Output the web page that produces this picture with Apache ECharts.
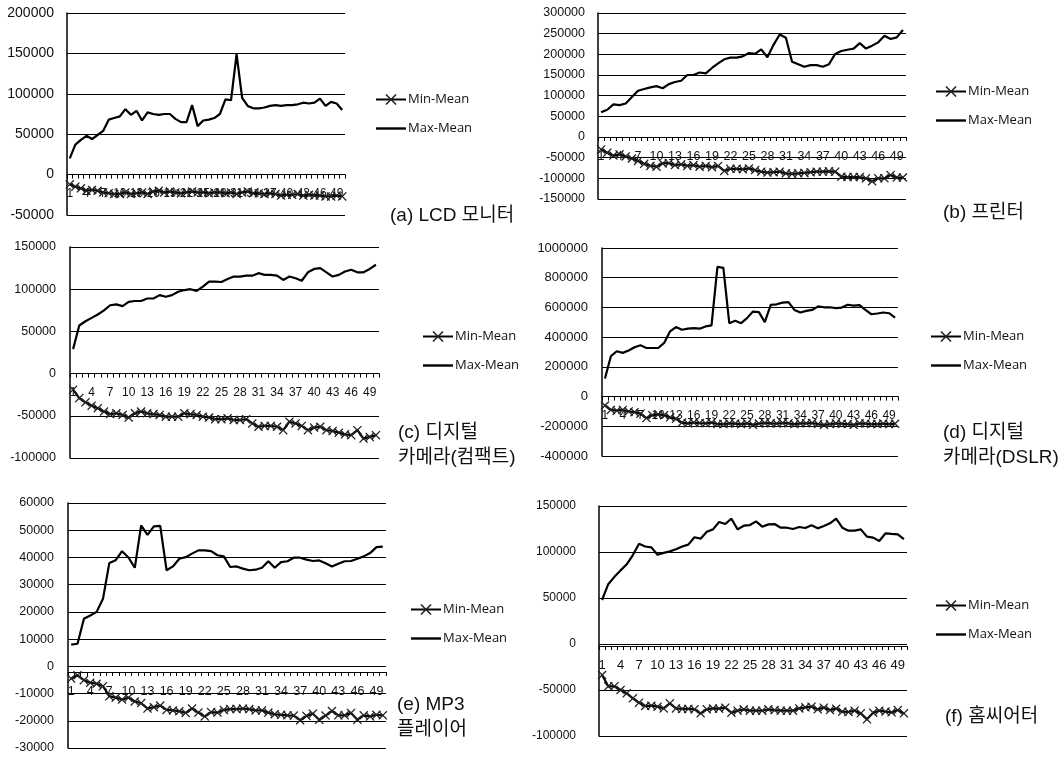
<!DOCTYPE html>
<html>
<head>
<meta charset="utf-8">
<script src="https://cdn.jsdelivr.net/npm/echarts@6/dist/echarts.min.js"></script>
<style>
html,body{margin:0;padding:0;background:#fff;}
#chart{width:1064px;height:757px;}
</style>
</head>
<body>
<div id="chart"></div>
<script>
// ---------- DATA ----------
const categories = ['1','2','3','4','5','6','7','8','9','10','11','12','13','14','15','16','17','18','19','20','21','22','23','24','25','26','27','28','29','30','31','32','33','34','35','36','37','38','39','40','41','42','43','44','45','46','47','48','49','50'];
const seriesNames = ['Min-Mean', 'Max-Mean'];

const lcdMin = [-12000,-15000,-17000,-20000,-19000,-20000,-22000,-23000,-24000,-24000,-22000,-24000,-23000,-22000,-24000,-21000,-20000,-22000,-21000,-22000,-23000,-22000,-21000,-22000,-22000,-23000,-22000,-22000,-23000,-22000,-24000,-22000,-21000,-23000,-23000,-24000,-23000,-24000,-26000,-25000,-25000,-24000,-26000,-25000,-26000,-26000,-27000,-27000,-26000,-27000];
const lcdMax = [20000,37000,43000,48000,44000,49000,54000,68000,70000,72000,81000,74000,79000,67000,77000,75000,74000,75000,75000,69000,65000,65000,86000,60000,67000,68000,70000,75000,93000,92000,149000,95000,85000,82000,82000,83000,85000,86000,85000,86000,86000,87000,89000,88000,89000,94000,85000,90000,88000,80000];

const printerMin = [-30000,-38000,-45000,-42000,-47000,-52000,-58000,-65000,-70000,-72000,-64000,-63000,-68000,-66000,-70000,-68000,-72000,-70000,-73000,-70000,-82000,-77000,-77000,-78000,-76000,-80000,-84000,-86000,-85000,-84000,-88000,-89000,-88000,-87000,-85000,-84000,-84000,-83000,-84000,-96000,-97000,-97000,-97000,-100000,-107000,-100000,-100000,-92000,-98000,-98000];
const printerMax = [60000,66000,79000,77000,81000,97000,112000,116000,120000,123000,118000,128000,133000,136000,150000,150000,156000,154000,167000,178000,188000,192000,192000,195000,203000,201000,212000,193000,223000,248000,240000,182000,176000,170000,174000,174000,170000,176000,201000,208000,211000,214000,227000,214000,221000,229000,245000,237000,241000,259000];

const compactMin = [-19000,-29000,-34000,-38000,-41000,-45000,-48000,-47000,-49000,-52000,-47000,-45000,-47000,-48000,-49000,-51000,-51000,-51000,-47000,-48000,-49000,-51000,-52000,-54000,-54000,-53000,-55000,-55000,-54000,-59000,-63000,-62000,-62000,-63000,-67000,-57000,-59000,-62000,-67000,-64000,-63000,-67000,-68000,-70000,-72000,-73000,-67000,-77000,-75000,-73000];
const compactMax = [29000,57000,62000,66000,70000,75000,81000,82000,80000,85000,86000,86000,89000,89000,93000,91000,93000,97000,99000,100000,98000,103000,109000,109000,108500,112000,115000,115000,116000,116000,119000,117000,117000,116000,111000,115000,113000,110000,120000,124000,125000,120000,115000,117000,121000,123000,120000,120000,124000,129000];

const dslrMin = [-60000,-90000,-95000,-90000,-100000,-105000,-115000,-145000,-125000,-120000,-125000,-140000,-150000,-175000,-180000,-175000,-178000,-180000,-175000,-185000,-185000,-180000,-182000,-185000,-180000,-190000,-182000,-178000,-180000,-182000,-178000,-180000,-185000,-180000,-180000,-178000,-185000,-190000,-185000,-180000,-183000,-185000,-190000,-180000,-182000,-185000,-185000,-182000,-185000,-183000];
const dslrMax = [122000,272000,305000,294000,310000,332000,345000,327000,327000,327000,361000,439000,468000,450000,457000,461000,457000,472000,479000,873000,866000,494000,510000,494000,528000,572000,568000,501000,617000,621000,632000,636000,583000,566000,577000,583000,607000,601000,601000,595000,599000,618000,612000,615000,583000,554000,559000,566000,561000,532000];

const mp3Min = [-4500,-3300,-5100,-6000,-6400,-7300,-11000,-11500,-12200,-11500,-12900,-13500,-15500,-15000,-14400,-16000,-16200,-16500,-17100,-15500,-17000,-18400,-16800,-17000,-16000,-15700,-15700,-15500,-15700,-16200,-16200,-17000,-17600,-17800,-18000,-18100,-19800,-18200,-17400,-19600,-18100,-16400,-18000,-18000,-17100,-19600,-18000,-18400,-17800,-18000];
const mp3Max = [8000,8300,17500,18700,20000,24800,38000,39000,42300,40000,36200,51800,48300,51400,51600,35300,36700,39500,40100,41400,42600,42600,42300,40800,40400,36500,36700,35900,35300,35500,36200,38600,36200,38300,38600,39900,39900,39200,38700,38900,37900,36700,37700,38600,38700,39500,40400,41600,43800,44000];

const theaterMin = [-33700,-46000,-46000,-50000,-53600,-59000,-63800,-67400,-67000,-68100,-70000,-64500,-70000,-70600,-70600,-71000,-75400,-71000,-70000,-70300,-69200,-74600,-72500,-71000,-72500,-72500,-72500,-71000,-71800,-72500,-72500,-72500,-70000,-68800,-68100,-71000,-69200,-71800,-70300,-73500,-73900,-72500,-75400,-81900,-74600,-72500,-73500,-74300,-71800,-75400];
const theaterMax = [47800,65000,73000,80000,86600,96700,109000,106000,105000,97000,99000,100700,103000,106000,108000,116000,114500,122000,124600,132600,130400,136200,124600,128600,129300,133300,127500,130000,130400,126400,126400,125000,127200,126100,129000,125700,128300,131200,136200,126400,123200,123200,124600,116700,115600,112000,120300,119600,119200,114100];

// y-axis tick settings (labels)
const yTicks = {
  a: {min: -50000, max: 200000, interval: 50000},
  b: {min: -150000, max: 300000, interval: 50000},
  c: {min: -100000, max: 150000, interval: 50000},
  d: {min: -400000, max: 1000000, interval: 200000},
  e: {min: -30000, max: 60000, interval: 10000},
  f: {min: -100000, max: 150000, interval: 50000}
};

const captions = {
  a: ['(a) LCD 모니터'],
  b: ['(b) 프린터'],
  c: ['(c) 디지털', '카메라(컴팩트)'],
  d: ['(d) 디지털', '카메라(DSLR)'],
  e: ['(e) MP3', '플레이어'],
  f: ['(f) 홈씨어터']
};

const panelData = {
  a: [lcdMin, lcdMax],
  b: [printerMin, printerMax],
  c: [compactMin, compactMax],
  d: [dslrMin, dslrMax],
  e: [mp3Min, mp3Max],
  f: [theaterMin, theaterMax]
};

// ---------- LAYOUT ----------
const layout = {
  a: {grid:{left:67, top:13, width:278, height:202}, yFont:14, yMargin:13, xFont:12, legend:{left:375, top:93}, cap:{left:390, top:[206]}},
  b: {grid:{left:598, top:13, width:308, height:186}, yFont:12.5, yMargin:13, xFont:12.5, legend:{left:935, top:85}, cap:{left:943, top:[203]}},
  c: {grid:{left:70, top:247, width:309, height:211}, yFont:12.5, yMargin:14, xFont:12, legend:{left:422, top:330}, cap:{left:398, top:[423, 448]}},
  d: {grid:{left:602, top:248, width:296, height:208}, yFont:13, yMargin:14, xFont:12, legend:{left:930, top:330}, cap:{left:943, top:[423, 448]}},
  e: {grid:{left:68, top:503, width:318, height:245}, yFont:12.5, yMargin:14, xFont:12.5, legend:{left:410, top:603}, cap:{left:397, top:[695, 720]}},
  f: {grid:{left:599, top:506, width:308, height:230}, yFont:12, yMargin:23, xFont:13, legend:{left:935, top:599}, cap:{left:945, top:[707]}}
};

const keys = ['a','b','c','d','e','f'];
const xSymbol = 'path://M0,1L1,0L5,4L9,0L10,1L6,5L10,9L9,10L5,6L1,10L0,9L4,5Z';
const lineIcon = 'path://M0,0L30,0L30,2.4L0,2.4Z';
const latin = '"Liberation Sans", Arial, sans-serif';
const capFont = '19px "Liberation Sans", "Noto Sans CJK KR", sans-serif';

const grids = [], xAxes = [], yAxes = [], series = [], legends = [], graphics = [];

keys.forEach((k, i) => {
  const L = layout[k];
  grids.push(Object.assign({containLabel:false}, L.grid));
  xAxes.push({
    type:'category', gridIndex:i, data:categories, boundaryGap:true, position:'bottom', offset:0,
    axisLine:{show:true, onZero:false, lineStyle:{color:'#000', width:1.2}},
    axisTick:{show:true, interval:0, length:4, lineStyle:{color:'#000'}},
    axisLabel:{interval:2, margin:13, fontSize:L.xFont, color:'#111', fontFamily:latin, hideOverlap:false},
    splitLine:{show:false}
  });
  yAxes.push({
    type:'value', gridIndex:i, min:yTicks[k].min, max:yTicks[k].max, interval:yTicks[k].interval,
    axisLine:{show:true, lineStyle:{color:'#000', width:1.5}},
    axisTick:{show:false},
    axisLabel:{margin:L.yMargin, fontSize:L.yFont, color:'#111', fontFamily:latin, formatter:v => String(v)},
    splitLine:{show:true, lineStyle:{color:'#000', width:1.2}}
  });
  const [mn, mx] = panelData[k];
  series.push({
    name:seriesNames[0], type:'line', xAxisIndex:i, yAxisIndex:i, data:mn,
    symbol:xSymbol, symbolSize:9, showSymbol:true, showAllSymbol:true,
    itemStyle:{color:'#222'}, lineStyle:{color:'#000', width:2.2}, silent:true, z:3
  });
  series.push({
    name:seriesNames[1], type:'line', xAxisIndex:i, yAxisIndex:i, data:mx,
    symbol:'none', itemStyle:{color:'#000'}, lineStyle:{color:'#000', width:2.2}, silent:true, z:3
  });
  legends.push({
    left:L.legend.left, top:L.legend.top, orient:'vertical', padding:0,
    itemWidth:30, itemHeight:14, itemGap:16, selectedMode:false,
    data:[{name:seriesNames[0]}, {name:seriesNames[1], icon:lineIcon, itemStyle:{color:'#000'}}],
    textStyle:{fontSize:13, fontFamily:'"Open Sans", sans-serif', color:'#111', padding:[0,0,0,-3]}
  });
  captions[k].forEach((t, j) => {
    graphics.push({type:'text', left:L.cap.left, top:L.cap.top[j],
      style:{text:t, font:capFont, fill:'#111'}});
  });
});

const chart = echarts.init(document.getElementById('chart'), null, {renderer:'canvas'});
chart.setOption({
  animation:false,
  backgroundColor:'#fff',
  grid:grids, xAxis:xAxes, yAxis:yAxes, series:series, legend:legends, graphic:graphics
});

// place each category axis on the zero line of its value axis (via the library's scale)
const xUpdate = keys.map((k, i) => {
  const zeroPx = chart.convertToPixel({yAxisIndex:i}, 0);
  const bottomPx = chart.convertToPixel({yAxisIndex:i}, yTicks[k].min);
  return {offset: zeroPx - bottomPx};
});
chart.setOption({xAxis:xUpdate});
</script>
</body>
</html>
